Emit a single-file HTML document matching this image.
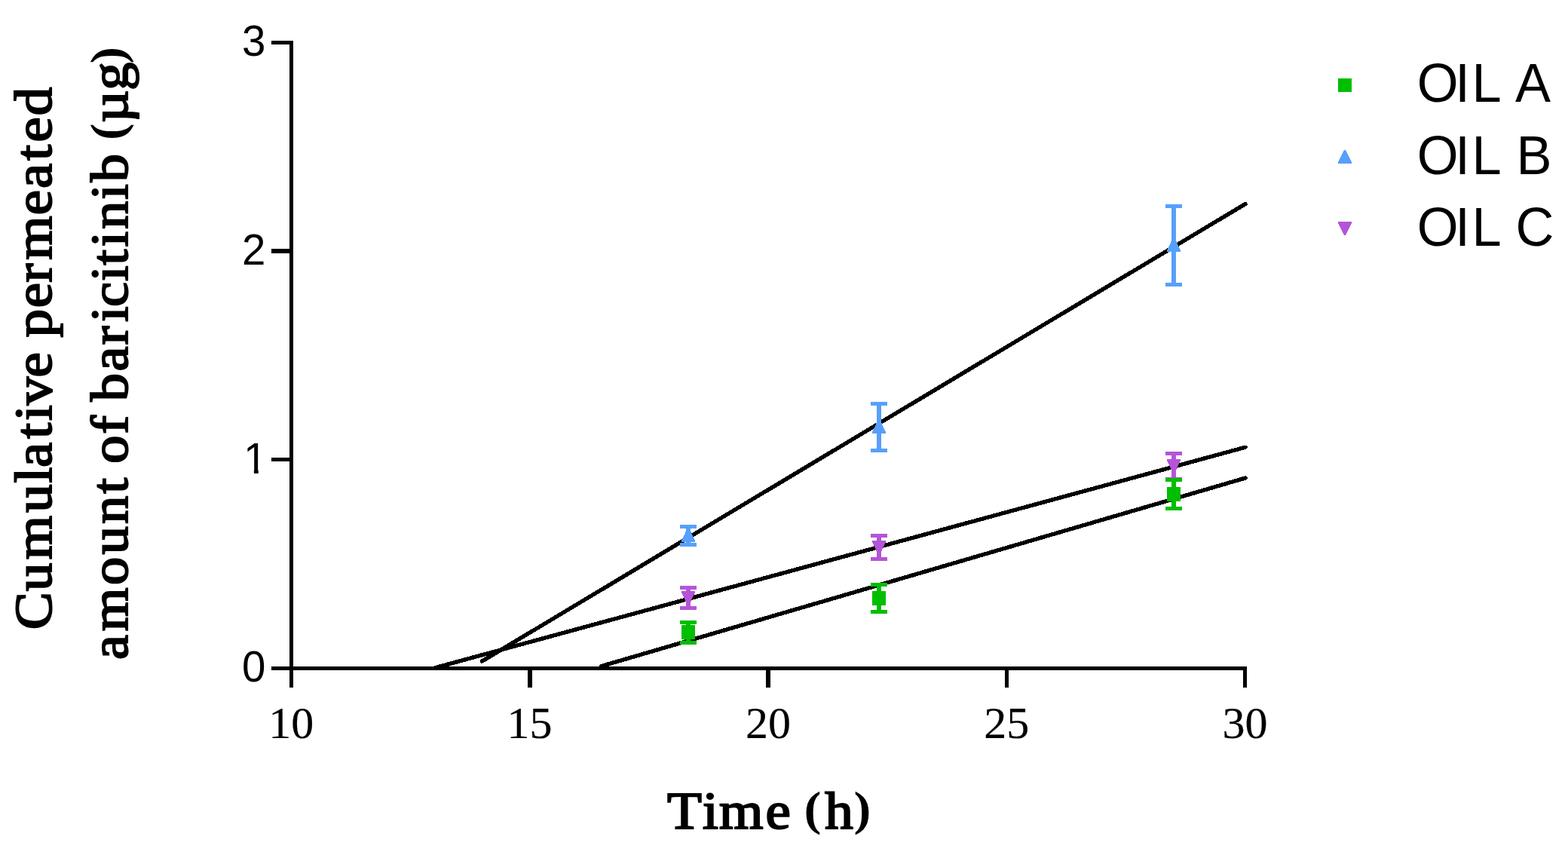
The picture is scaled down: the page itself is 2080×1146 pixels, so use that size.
<!DOCTYPE html>
<html lang="en"><head><meta charset="utf-8"><title>Cumulative permeated amount of baricitinib</title>
<style>html,body{margin:0;padding:0;background:#fff;}body{width:2080px;height:1146px;overflow:hidden;}svg{display:block;}.sans{font-family:"Liberation Sans",sans-serif;}.serif{font-family:"Liberation Serif",serif;}</style></head><body>
<svg width="2080" height="1146" viewBox="0 0 2080 1146">
<rect width="2080" height="1146" fill="#fff"/>
<g stroke="#000" stroke-width="5.4" stroke-linecap="round" fill="none" shape-rendering="crispEdges">
<line x1="578" y1="885.5" x2="1652" y2="593.2"/>
<line x1="639.5" y1="877" x2="1652" y2="270.5"/>
<line x1="798" y1="883.5" x2="1652" y2="634"/>
</g>
<g fill="#000" shape-rendering="crispEdges">
<rect x="384" y="54" width="5" height="858"/>
<rect x="360" y="884" width="1294" height="5"/>
<rect x="360" y="54" width="24" height="5"/>
<rect x="360" y="330" width="24" height="6"/>
<rect x="360" y="607" width="24" height="5"/>
<rect x="700" y="889" width="6" height="23"/>
<rect x="1016" y="889" width="6" height="23"/>
<rect x="1333" y="889" width="5" height="23"/>
<rect x="1649" y="889" width="5" height="23"/>
</g>
<g shape-rendering="crispEdges">
<g fill="#B455D8"><rect x="910" y="777" width="6" height="32"/><rect x="902" y="777" width="22" height="5" rx="1.2"/><rect x="902" y="804" width="22" height="5" rx="1.2"/></g>
<polygon points="904,784 922,784 922,785.5 914,803 912,803 904,785.5" fill="#B455D8"/>
<g fill="#B455D8"><rect x="1163" y="708" width="6" height="36"/><rect x="1155" y="708" width="22" height="5" rx="1.2"/><rect x="1155" y="739" width="22" height="5" rx="1.2"/></g>
<polygon points="1157,717 1175,717 1175,718.5 1167,736 1165,736 1157,718.5" fill="#B455D8"/>
<g fill="#B455D8"><rect x="1554" y="599" width="6" height="39"/><rect x="1546" y="599" width="22" height="5" rx="1.2"/><rect x="1546" y="633" width="22" height="5" rx="1.2"/></g>
<polygon points="1548,609 1566,609 1566,610.5 1558,628 1556,628 1548,610.5" fill="#B455D8"/>
<g fill="#56A0FB"><rect x="910" y="696" width="6" height="29"/><rect x="902" y="696" width="22" height="5" rx="1.2"/><rect x="902" y="720" width="22" height="5" rx="1.2"/></g>
<polygon points="912,700 914,700 922,717.5 922,719 904,719 904,717.5" fill="#56A0FB"/>
<g fill="#56A0FB"><rect x="1163" y="533" width="6" height="67"/><rect x="1155" y="533" width="22" height="5" rx="1.2"/><rect x="1155" y="595" width="22" height="5" rx="1.2"/></g>
<polygon points="1165,556 1167,556 1175,573.5 1175,575 1157,575 1157,573.5" fill="#56A0FB"/>
<g fill="#56A0FB"><rect x="1554" y="271" width="6" height="109"/><rect x="1546" y="271" width="22" height="5" rx="1.2"/><rect x="1546" y="375" width="22" height="5" rx="1.2"/></g>
<polygon points="1556,315 1558,315 1566,332.5 1566,334 1548,334 1548,332.5" fill="#56A0FB"/>
<g fill="#00BE00"><rect x="910" y="823" width="6" height="32"/><rect x="902" y="823" width="22" height="5" rx="1.2"/><rect x="902" y="850" width="22" height="5" rx="1.2"/></g>
<rect x="904" y="829" width="18" height="19" fill="#00BE00"/>
<g fill="#00BE00"><rect x="1163" y="773" width="6" height="41"/><rect x="1155" y="773" width="22" height="5" rx="1.2"/><rect x="1155" y="809" width="22" height="5" rx="1.2"/></g>
<rect x="1157" y="784" width="18" height="19" fill="#00BE00"/>
<g fill="#00BE00"><rect x="1554" y="634" width="6" height="43"/><rect x="1546" y="634" width="22" height="5" rx="1.2"/><rect x="1546" y="672" width="22" height="5" rx="1.2"/></g>
<rect x="1548" y="646" width="18" height="19" fill="#00BE00"/>
</g>
<defs><clipPath id="one"><polygon points="320,-60 342.7,-60 342.7,10 336.9,10 336.9,-5.2 320,-5.2"/></clipPath></defs>
<text class="sans" font-size="56.4" text-anchor="end" fill="#000" transform="translate(0,904.4) scale(1,1.024)" x="352.4" y="0">0</text>
<text class="sans" font-size="56.4" text-anchor="end" fill="#000" transform="translate(0,627.7) scale(1,1.024)" x="354.4" y="0" clip-path="url(#one)">1</text>
<text class="sans" font-size="56.4" text-anchor="end" fill="#000" transform="translate(0,351.1) scale(1,1.024)" x="352.4" y="0">2</text>
<text class="sans" font-size="56.4" text-anchor="end" fill="#000" transform="translate(0,74.4) scale(1,1.024)" x="352.4" y="0">3</text>
<g class="serif" font-size="60" text-anchor="middle" fill="#000" stroke="#000" stroke-width="0.2">
<text x="386.2" y="978.9">10</text>
<text x="702.5" y="978.9">15</text>
<text x="1019.0" y="978.9">20</text>
<text x="1335.2" y="978.9">25</text>
<text x="1651.5" y="978.9">30</text>
</g>
<text class="serif" xml:space="preserve" font-size="72" stroke="#000" stroke-width="2.2" stroke-linejoin="miter" transform="translate(0.00,1098.95) scale(1.0432,0.9559)"><tspan x="848.32 893.45 914.57 973.56 1003.08" y="0">Time </tspan><tspan font-weight="bold" font-size="65.82" stroke="none" x="1022.36" y="-5.67">(</tspan><tspan x="1048.92" y="0">h</tspan><tspan font-weight="bold" font-size="65.82" stroke="none" x="1085.65" y="-5.67">)</tspan></text>
<text class="serif" xml:space="preserve" font-size="72" stroke="#000" stroke-width="2.2" stroke-linejoin="miter" transform="translate(67.95,1146.00) rotate(-90) scale(1.0394,0.9559)"><tspan x="299.00 348.39 388.41 448.69 486.34 506.14 542.83 565.72 585.75 621.03 650.55 672.03 709.87 742.23 770.97 828.11 862.01 897.93 921.29 955.19" y="0">Cumulative permeated</tspan></text>
<text class="serif" xml:space="preserve" font-size="72" stroke="#000" stroke-width="2.2" stroke-linejoin="miter" transform="translate(169.15,1146.00) rotate(-90) scale(1.0305,0.9559)"><tspan x="262.98 299.63 359.14 398.58 437.91 477.07 496.69 515.52 553.47 577.41 595.67 634.10 668.31 697.73 717.03 750.22 770.90 794.28 817.29 855.08 878.05 911.35" y="0">amount of baricitinib </tspan><tspan font-weight="bold" font-size="65.71" stroke="none" x="931.55" y="-5.75">(</tspan><tspan x="954.35 995.98" y="0">µg</tspan><tspan font-weight="bold" font-size="65.71" stroke="none" x="1030.15" y="-5.75">)</tspan></text>
<g shape-rendering="crispEdges"><rect x="1775" y="104" width="18" height="18" fill="#00BE00"/><polygon points="1783,198.6 1785,198.6 1793,215.5 1793,217 1775,217 1775,215.5" fill="#56A0FB"/><polygon points="1775,294 1793,294 1793,295.5 1785,312.4 1783,312.4 1775,295.5" fill="#B455D8"/></g>
<text class="sans" font-size="70.5" fill="#000" transform="translate(0,135.1) scale(1,1.037)" x="1879.8 1930.3 1952.5 1991.7 2009.9" y="0">OIL A</text>
<text class="sans" font-size="70.5" fill="#000" transform="translate(0,230.9) scale(1,1.037)" x="1879.8 1930.3 1952.5 1991.7 2011.4" y="0">OIL B</text>
<text class="sans" font-size="70.5" fill="#000" transform="translate(0,326) scale(1,1.037)" x="1879.8 1930.3 1952.5 1991.7 2010.4" y="0">OIL C</text>
</svg></body></html>
